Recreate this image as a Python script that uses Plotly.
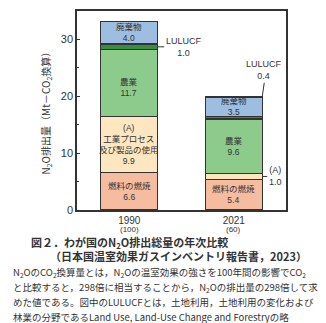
import plotly.graph_objects as go

years = ["1990", "2021"]
index_vals = ["(100)", "(60)"]
fuel = [6.6, 5.4]
industry = [9.9, 1.0]
agri = [11.7, 9.6]
lulucf = [1.0, 0.4]
waste = [4.0, 3.5]

series = [
    ("燃料の燃焼", fuel, "#F6BCA0"),
    ("(A)工業プロセス及び製品の使用", industry, "#FDE6C0"),
    ("農業", agri, "#8DCB8C"),
    ("LULUCF", lulucf, "#3C8B42"),
    ("廃棄物", waste, "#9DBDE1"),
]

FONT = "Liberation Sans, Arial, Noto Sans CJK JP"
JP = "Noto Sans CJK JP"
TXT = "#333333"
BARW = 0.545
xs = [0, 1]

fig = go.Figure()
for name, vals, col in series:
    fig.add_trace(go.Bar(x=xs, y=vals, name=name, width=BARW,
                         marker=dict(color=col, line=dict(color="#333333", width=1.3)),
                         hoverinfo="skip"))

bases = []
cum = [0.0, 0.0]
for _, vals, _ in series:
    bases.append(list(cum))
    cum = [c + v for c, v in zip(cum, vals)]

def mid(si, i):
    return bases[si][i] + series[si][1][i] / 2

ann = []
inner = {
    (0, 0): "燃料の燃焼<br>%.1f" % fuel[0],
    (1, 0): "(A)<br>工業プロセス<br>及び製品の使用<br>%.1f" % industry[0],
    (2, 0): "農業<br>%.1f" % agri[0],
    (4, 0): "廃棄物<br>%.1f" % waste[0],
    (0, 1): "燃料の燃焼<br>%.1f" % fuel[1],
    (2, 1): "農業<br>%.1f" % agri[1],
    (4, 1): "廃棄物<br>%.1f" % waste[1],
}
for (si, i), t in inner.items():
    ann.append(dict(x=xs[i], y=mid(si, i), text=t, showarrow=False,
                    font=dict(size=8.5, color=TXT, family=FONT),
                    yshift=-5 if (si, i) == (2, 0) else 0))

ann.append(dict(x=xs[0] + BARW / 2, y=mid(3, 0), text="LULUCF<br>%.1f" % lulucf[0],
                showarrow=True, arrowhead=0, arrowwidth=1, arrowcolor="#333",
                ax=26, ay=0, font=dict(size=9, color=TXT, family=FONT)))
ann.append(dict(x=xs[1] + BARW / 2, y=cum[1], text="LULUCF<br>%.1f" % lulucf[1],
                showarrow=True, arrowhead=0, arrowwidth=1, arrowcolor="#333",
                ax=2, ay=-14, yanchor="bottom", font=dict(size=9, color=TXT, family=FONT)))
ann.append(dict(x=xs[1] + BARW / 2, y=mid(1, 1), text="(A)<br>%.1f" % industry[1],
                showarrow=True, arrowhead=0, arrowwidth=1, arrowcolor="#333",
                ax=13, ay=0, font=dict(size=9, color=TXT, family=FONT)))

pt, pb = 9, 210
def py(ypix):
    return (pb - ypix) / (pb - pt)
def px(xpix):
    return (xpix - 77) / 209

for i, s in enumerate(index_vals):
    ann.append(dict(x=xs[i], xref="x", yref="paper", y=py(229.5), text=s, showarrow=False,
                    xanchor="center", yanchor="middle",
                    font=dict(size=8, color=TXT, family=FONT)))

ann.append(dict(xref="paper", yref="paper", x=px(45), y=0.5, xanchor="center", yanchor="middle",
                text="N<sub>2</sub>O排出量（Mt－CO<sub>2</sub>換算）", textangle=-90,
                showarrow=False, font=dict(size=10, color=TXT, family=JP)))

ann.append(dict(xref="paper", yref="paper", x=px(29), y=py(243), xanchor="left", yanchor="middle",
                text="<b>図２．わが国のN<sub>2</sub>O排出総量の年次比較</b>", showarrow=False,
                font=dict(size=11, color=TXT, family=JP)))
ann.append(dict(xref="paper", yref="paper", x=px(48), y=py(256.5), xanchor="left", yanchor="middle",
                text="<b>（日本国温室効果ガスインベントリ報告書，2023）</b>", showarrow=False,
                font=dict(size=11, color=TXT, family=JP)))
body = [
    "N<sub>2</sub>OのCO<sub>2</sub>換算量とは，N<sub>2</sub>Oの温室効果の強さを100年間の影響でCO<sub>2</sub>",
    "と比較すると，298倍に相当することから，N<sub>2</sub>Oの排出量の298倍して求",
    "めた値である。図中のLULUCFとは，土地利用，土地利用の変化および",
    "林業の分野であるLand Use, Land-Use Change and Forestryの略",
]
for k, line in enumerate(body):
    ann.append(dict(xref="paper", yref="paper", x=px(11), y=py(273 + 15 * k), xanchor="left",
                    yanchor="middle", text=line, showarrow=False,
                    font=dict(size=9.5, color=TXT, family=JP)))

fig.update_layout(
    barmode="stack", showlegend=False, width=326, height=323,
    margin=dict(l=77, r=40, t=9, b=113),
    paper_bgcolor="white", plot_bgcolor="white",
    font=dict(family=FONT, color=TXT),
    annotations=ann,
    xaxis=dict(range=[-0.5, 1.5], tickvals=xs, ticktext=years,
               showline=True, linecolor="#333", linewidth=1.5, mirror=True, ticks="",
               tickfont=dict(size=10, color=TXT), showgrid=False, zeroline=False,
               fixedrange=True),
    yaxis=dict(range=[0, 35], tickvals=[0, 10, 20, 30], ticks="inside", ticklen=3,
               tickcolor="#333", showline=True, linecolor="#333", linewidth=1.5, mirror=True,
               tickfont=dict(size=11, color=TXT), showgrid=False, zeroline=False,
               minor=dict(tickvals=[5, 15, 25], ticks="inside", ticklen=2, tickcolor="#333"),
               fixedrange=True),
)
fig.write_html("out.html", config={"displayModeBar": False})
